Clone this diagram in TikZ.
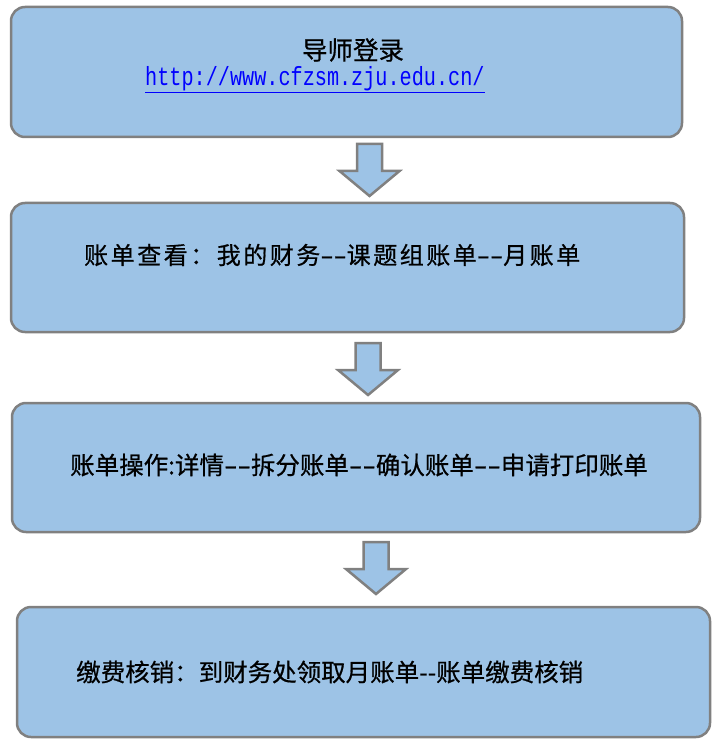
\documentclass[tikz,border=0pt]{standalone}
\usepackage{fontspec}
\newfontfamily\cjk[FakeBold=0.6]{Noto Sans CJK SC}
\newfontfamily\cjkspaced[LetterSpace=10.5,FakeBold=0.6]{Noto Sans CJK SC}
\newfontfamily\urlfont{Liberation Mono}
\newcommand\longhy{\makebox[0.55em][c]{\scalebox{1.6}[1]{-}}}
\usetikzlibrary{calc}
\definecolor{boxfill}{HTML}{9DC3E6}
\definecolor{boxline}{HTML}{808080}
\definecolor{urlblue}{HTML}{0000FF}
\begin{document}
\begin{tikzpicture}[x=1pt,y=-1pt,
  stepbox/.style={draw=boxline, fill=boxfill, line width=2.5pt, rounded corners=14pt, inner sep=0pt},
  cjklabel/.style={inner sep=0pt, font=\cjk\fontsize{24.5}{28}\selectfont},
  barrow/.style={draw=boxline, fill=boxfill, line width=2.5pt, line join=miter},
  blockarrow/.pic={\draw[barrow] (-12.5,0) -- (12.5,0) -- (12.5,27) -- (30,27) -- (0,52) -- (-30,27) -- (-12.5,27) -- cycle;}
]
\useasboundingbox (0,0) rectangle (724,751);
\node[stepbox, minimum width=671pt, minimum height=130pt] (b1) at (346.5,72) {};
\node[stepbox, minimum width=673pt, minimum height=129pt] (b2) at (347.5,267.5) {};
\node[stepbox, minimum width=688pt, minimum height=129pt] (b3) at (356,467.5) {};
\node[stepbox, minimum width=693pt, minimum height=130pt] (b4) at (363.5,672) {};

\coordinate (a1) at (369.5,144);
\coordinate (a2) at (368,343);
\coordinate (a3) at (376,542);
\pic at (a1) {blockarrow};
\pic at (a2) {blockarrow};
\pic at (a3) {blockarrow};

\node[cjklabel, font=\cjk\fontsize{25.5}{28}\selectfont] (t1) at (353,50) {导师登录};
\node[inner sep=0pt, anchor=west] (u1) at (145,80)
  {\color{urlblue}\underline{\scalebox{1}[1.3]{\urlfont\fontsize{20.2}{24}\selectfont http://www.cfzsm.zju.edu.cn/}}};
\node[cjklabel, anchor=west, font=\cjkspaced\fontsize{24}{28}\selectfont] (t2) at (84,255) {账单查看：我的财务\longhy\longhy 课题组账单\longhy\longhy 月账单};
\node[cjklabel, anchor=west] (t3) at (70,465) {账单操作:详情\longhy\longhy 拆分账单\longhy\longhy 确认账单\longhy\longhy 申请打印账单};
\node[cjklabel, anchor=west] (t4) at (76,672) {缴费核销：到财务处领取月账单--账单缴费核销};
\end{tikzpicture}
\end{document}
